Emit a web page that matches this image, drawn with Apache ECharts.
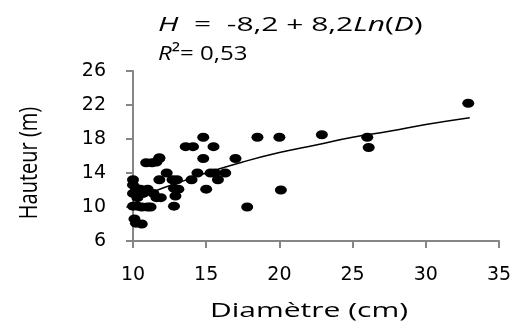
<!DOCTYPE html>
<html>
<head>
<meta charset="utf-8">
<script src="https://cdn.jsdelivr.net/npm/echarts@6/dist/echarts.min.js"></script>
<style>
  html, body { margin: 0; padding: 0; background: #fff; }
  #chart { width: 517px; height: 324px; }
</style>
</head>
<body>
<div id="chart"></div>
<script>
// diameter (cm), height (m)
const diametre = [
  10.0, 10.0, 10.2, 10.0, 10.3, 10.0, 10.3, 10.6, 11.0, 9.9, 10.1, 10.2, 10.6,
  10.5, 11.0, 10.7, 11.4, 11.2, 11.6, 11.9,
  10.9, 11.3, 11.6, 11.8, 11.8,
  11.8, 12.3, 12.7, 12.8, 13.1, 12.9, 12.8,
  13.6, 14.1, 14.0, 14.4, 14.8, 15.5, 14.8, 17.0,
  15.3, 15.6, 16.3, 13.0, 15.8, 15.0,
  17.8, 18.5, 20.0, 20.1, 22.9, 26.0, 26.1, 32.9
]
const hauteur = [
  13.2, 12.6, 12.2, 11.6, 11.1, 10.1, 10.1, 10.0, 10.0, 8.8, 8.6, 8.1, 8.0,
  12.1, 12.1, 11.6, 11.6, 10.0, 11.1, 11.1,
  15.2, 15.2, 15.3, 15.7, 13.2,
  15.8, 14.0, 13.2, 12.2, 12.1, 11.3, 10.1,
  17.1, 17.1, 13.2, 14.0, 18.2, 17.1, 15.7, 15.7,
  14.0, 14.0, 14.0, 13.2, 13.2, 12.1,
  10.0, 18.2, 18.2, 12.0, 18.5, 18.2, 17.0, 22.2
]
// trend curve points
const trendD = [10, 11, 12, 13.5, 15, 17.5, 20, 22.5, 25, 27.5, 30, 33]
const trendH = [10.7, 11.5, 12.2, 13.1, 14.0, 15.3, 16.4, 17.3, 18.2, 18.9, 19.7, 20.5]

const xTicks = { min: 10, max: 35, step: 5 }
const yTicks = { min: 6, max: 26, step: 4 }

const points = diametre.map((d, i) => [d, hauteur[i]])
const trend = trendD.map((d, i) => [d, trendH[i]])

const chart = echarts.init(document.getElementById('chart'))
const axisGray = '#868686'
const labelFont = 'DejaVu Sans'
const textFont = 'Open Sans'

const axisCommon = {
  axisLine: { show: true, onZero: false, lineStyle: { color: axisGray, width: 2 } },
  axisTick: { show: true, inside: false, length: 7, lineStyle: { color: axisGray, width: 2 } },
  splitLine: { show: false },
  axisLabel: { color: '#000', fontFamily: labelFont, fontSize: 19 }
}

const richEq = {
  i: { fontFamily: textFont, fontSize: 20, fontStyle: 'italic', fill: '#000' },
  r: { fontFamily: textFont, fontSize: 20, fill: '#000' }
}

chart.setOption({
  animation: false,
  grid: { left: 133, right: 18, top: 71, bottom: 83 },
  xAxis: {
    type: 'value',
    min: xTicks.min, max: xTicks.max, interval: xTicks.step,
    ...axisCommon,
    axisLabel: { ...axisCommon.axisLabel, margin: 25 }
  },
  yAxis: {
    type: 'value',
    min: yTicks.min, max: yTicks.max, interval: yTicks.step,
    ...axisCommon,
    axisLabel: { ...axisCommon.axisLabel, margin: 27 }
  },
  graphic: [
    {
      type: 'text', x: 158, y: 25, scaleX: 1.5,
      style: {
        text: '{i|H}{r|  =  -8,2 + 8,2}{i|Ln}{r|(}{i|D}{r|)}',
        rich: richEq, verticalAlign: 'middle', align: 'left'
      }
    },
    {
      type: 'text', x: 158, y: 54, scaleX: 1.2,
      style: {
        text: '{i|R}{r|²= 0,53}',
        rich: richEq, verticalAlign: 'middle', align: 'left'
      }
    },
    {
      type: 'text', x: 309, y: 311, scaleX: 1.5,
      style: {
        text: 'Diamètre (cm)', fontFamily: textFont, fontSize: 20, fill: '#000',
        align: 'center', verticalAlign: 'middle'
      }
    },
    {
      type: 'text', x: 30, y: 163, rotation: Math.PI / 2, scaleY: 1.3,
      style: {
        text: 'Hauteur (m)', fontFamily: textFont, fontSize: 20, fill: '#000',
        align: 'center', verticalAlign: 'middle'
      }
    }
  ],
  series: [
    {
      type: 'scatter',
      data: points,
      symbol: 'circle',
      symbolSize: [12, 9],
      itemStyle: { color: '#000', opacity: 1 },
      z: 2
    },
    {
      type: 'line',
      data: trend,
      smooth: true,
      showSymbol: false,
      lineStyle: { color: '#000', width: 1.5 },
      z: 3
    }
  ]
})
</script>
</body>
</html>
